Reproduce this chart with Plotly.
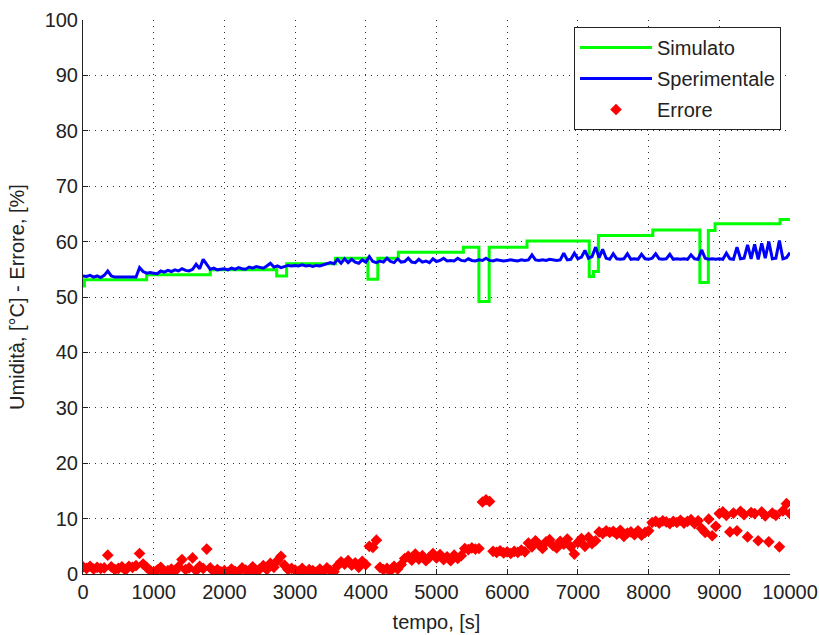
import plotly.graph_objects as go

# Sampling instants of the measured series and of the error (s)
t_samples = list(range(0, 10001, 50))

# Simulated humidity: step changes (time in s, value in %)
sim_t = [0, 20, 900, 1800, 2740, 2880, 3570, 4030, 4170, 4460, 5380, 5600,
         5745, 6280, 7160, 7220, 7290, 8060, 8725, 8845, 8940, 9860, 10000]
sim_v = [52.0, 53.1, 54.0, 54.9, 53.8, 56.0, 57.0, 53.2, 57.0, 58.1, 59.0, 49.2,
         59.0, 60.1, 53.7, 54.6, 61.1, 62.1, 52.6, 62.0, 63.2, 64.0, 64.0]

# Measured humidity, one value every 50 s
exp_v = [
    53.8, 53.7, 53.9, 53.6, 53.8, 53.5, 53.9, 54.7, 53.8, 53.6,
    53.6, 53.6, 53.6, 53.6, 53.6, 53.6, 55.3, 54.6, 54.3, 54.4,
    54.3, 54.2, 54.7, 54.5, 54.8, 54.6, 54.9, 54.7, 55.1, 54.8,
    54.7, 55.0, 55.9, 55.1, 56.8, 56.0, 55.0, 55.2, 54.9, 55.0,
    55.1, 54.9, 55.2, 55.0, 55.3, 55.1, 55.0, 55.4, 55.2, 55.5,
    55.3, 55.2, 55.6, 56.1, 55.4, 55.6, 55.3, 55.5, 55.7, 55.6,
    55.7, 55.6, 55.8, 55.6, 55.7, 55.5, 55.7, 55.6, 55.8, 55.9,
    56.2, 56.0, 56.8, 56.1, 56.9, 56.2, 56.8, 56.3, 56.1, 56.7,
    56.3, 57.3, 56.4, 56.2, 56.5, 56.3, 57.0, 56.4, 56.2, 56.9,
    56.3, 56.4, 57.0, 56.3, 56.2, 56.8, 56.3, 56.5, 56.2, 56.9,
    56.4, 56.6, 57.0, 56.5, 56.6, 56.5, 57.0, 56.6, 56.5, 56.9,
    56.6, 56.5, 56.7, 56.6, 57.0, 56.6, 56.5, 56.7, 56.6, 56.5,
    56.6, 56.7, 56.6, 56.5, 56.7, 56.6, 56.7, 57.6, 56.7, 56.6,
    56.7, 56.6, 56.8, 56.7, 56.6, 56.7, 57.9, 56.7, 56.8, 57.9,
    56.9, 57.2, 58.4, 57.0, 57.3, 59.0, 57.1, 58.6, 57.0, 56.8,
    57.8, 56.9, 56.8, 56.9, 57.8, 56.8, 56.9, 56.8, 57.7, 56.9,
    56.8, 57.0, 57.8, 56.9, 56.8, 56.9, 57.7, 56.8, 56.9, 56.8,
    56.9, 56.8, 57.6, 56.9, 56.8, 58.5, 57.0, 56.8, 56.9, 56.8,
    56.9, 56.8, 57.9, 56.9, 56.8, 59.0, 56.9, 57.0, 59.4, 56.9,
    59.5, 56.8, 59.7, 57.0, 60.0, 56.9, 57.0, 60.2, 56.9, 57.1,
    58.0,
]

# Relative error between simulated and measured humidity (%), every 50 s
err_v = [
    1.3, 1.0, 1.4, 0.9, 1.2, 1.0, 1.1, 3.4, 1.3, 0.8,
    1.0, 1.3, 0.7, 1.4, 1.2, 1.5, 3.7, 1.8, 1.2, 0.6,
    0.4, 0.7, 1.2, 0.3, 0.6, 0.9, 0.5, 1.3, 2.6, 0.8,
    1.1, 2.9, 0.6, 1.4, 1.0, 4.5, 1.1, 0.5, 0.8, 0.4,
    0.6, 0.3, 0.9, 0.5, 0.4, 1.1, 0.7, 0.3, 1.3, 0.6,
    0.9, 1.5, 0.8, 1.9, 1.2, 2.4, 3.2, 1.6, 0.8, 1.0,
    0.7, 0.5, 1.0, 0.4, 0.8, 0.6, 0.3, 0.9, 0.5, 1.1,
    0.6, 0.4, 1.5, 2.2, 1.8, 2.4, 1.6, 2.0, 1.2, 2.3,
    1.7, 5.0, 4.8, 6.1, 1.2, 0.8, 1.0, 0.6, 1.4, 0.9,
    1.7, 2.8, 3.2, 2.5, 3.6, 2.7, 3.3, 2.4, 3.0, 3.7,
    2.9, 3.5, 2.6, 3.1, 2.4, 3.4, 2.8, 3.3, 4.6, 4.4,
    4.7, 4.5, 4.6, 13.0, 13.4, 13.1, 4.1, 3.9, 4.2, 3.8,
    4.0, 3.7, 4.1, 3.9, 4.3, 4.0, 5.6, 4.9, 6.0, 5.3,
    4.6, 5.8, 6.2, 5.1, 4.7, 5.9, 5.4, 6.3, 4.9, 3.6,
    5.7, 6.4, 5.0, 6.6, 5.5, 6.0, 7.6, 7.3, 7.8, 7.5,
    7.7, 7.2, 7.9, 6.8, 7.4, 7.6, 7.1, 7.8, 7.0, 7.5,
    7.8, 9.3, 9.5, 9.2, 9.6, 9.4, 9.1, 9.5, 9.3, 9.7,
    9.2, 9.5, 9.8, 9.1, 9.6, 8.2, 7.5, 9.9, 6.9, 8.6,
    10.9, 11.2, 10.6, 7.6, 11.0, 7.8, 11.3, 10.7, 6.7, 11.1,
    10.9, 6.0, 11.2, 10.5, 5.8, 11.0, 10.6, 4.9, 11.4, 12.7,
    10.9,
]

x_ticks = [0, 1000, 2000, 3000, 4000, 5000, 6000, 7000, 8000, 9000, 10000]
y_ticks = [0, 10, 20, 30, 40, 50, 60, 70, 80, 90, 100]

FONT = "Liberation Sans, Arial, sans-serif"
FS = 20
INK = "#222222"

fig = go.Figure()
fig.add_trace(go.Scatter(
    x=sim_t, y=sim_v, name="Simulato", mode="lines", legendgroup="sim",
    line=dict(color="#00ff00", width=3, shape="hv"),
))
fig.add_trace(go.Scatter(
    x=t_samples, y=exp_v, name="Sperimentale", mode="lines", legendgroup="exp",
    line=dict(color="#0000ff", width=3),
))
fig.add_trace(go.Scatter(
    x=t_samples, y=err_v, name="Errore", mode="markers", legendgroup="err",
    marker=dict(color="#ff0000", symbol="diamond", size=9, line=dict(width=0)),
))

axis_common = dict(
    showline=True, linecolor=INK, linewidth=1, mirror=False,
    ticks="inside", ticklen=5, tickcolor=INK, tickwidth=1,
    showgrid=True, gridcolor="#333333", gridwidth=1, griddash="1px,5px",
    zeroline=False, automargin=False,
    tickfont=dict(family=FONT, size=FS, color=INK),
)

fig.update_xaxes(
    range=[0, 10000], tickvals=x_ticks, ticktext=[str(v) for v in x_ticks],
    title=dict(text="tempo, [s]", font=dict(family=FONT, size=FS, color=INK),
               standoff=12),
    **axis_common,
)
fig.update_yaxes(
    range=[0, 100], tickvals=y_ticks, ticktext=[str(v) for v in y_ticks],
    title=dict(text="Umidità, [°C] - Errore, [%]",
               font=dict(family=FONT, size=FS, color=INK), standoff=14),
    **axis_common,
)

fig.update_layout(
    width=819, height=635,
    margin=dict(l=83, r=29, t=20, b=61),
    paper_bgcolor="white", plot_bgcolor="white",
    showlegend=True,
    legend=dict(
        x=0.9873, xanchor="right", y=0.9874, yanchor="top",
        bgcolor="white", bordercolor=INK, borderwidth=1,
        font=dict(family=FONT, size=FS, color=INK),
        itemwidth=72, tracegroupgap=2,
    ),
)

fig.write_html("out.html")
